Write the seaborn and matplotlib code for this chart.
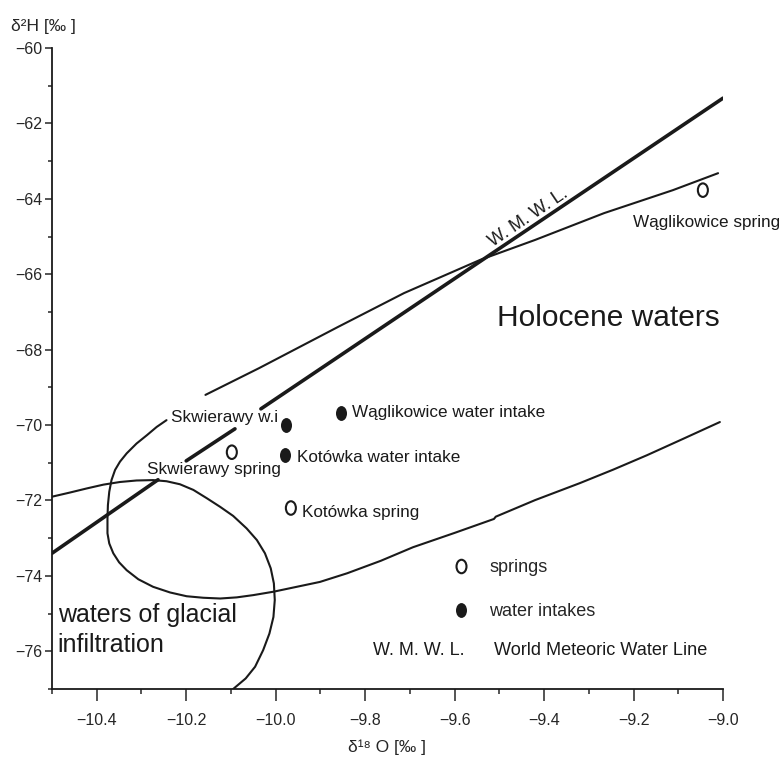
import pandas as pd
import seaborn as sns
import matplotlib.pyplot as plt
from matplotlib.path import Path
from matplotlib.transforms import Affine2D
from matplotlib.lines import Line2D

# world meteoric water line, cut where the labels sit on it
wmwl_seg = [0, 0, 1, 1, 2, 2]
wmwl_x = [-10.5, -10.263, -10.2, -10.091, -10.033, -9.0]
wmwl_y = [-73.4, -71.45, -70.95, -70.1, -69.57, -61.33]

# upper boundary of Holocene waters
upper_x = [-10.157, -10.037, -9.861, -9.713, -9.543, -9.420, -9.266, -9.112, -9.011]
upper_y = [-69.20, -68.49, -67.40, -66.50, -65.62, -65.09, -64.38, -63.77, -63.32]

# lower boundary of Holocene waters (loops round the glacial field)
lower_x = [-10.244, -10.266, -10.288, -10.311, -10.333, -10.348, -10.359, -10.367,
           -10.372, -10.375, -10.376, -10.376, -10.372, -10.363, -10.350, -10.333,
           -10.307, -10.274, -10.236, -10.199, -10.162, -10.124, -10.087, -10.050,
           -10.005, -9.953, -9.901, -9.840, -9.765, -9.693, -9.600, -9.512,
           -9.508, -9.420, -9.320, -9.245, -9.170, -9.090, -9.007]
lower_y = [-69.87, -70.05, -70.27, -70.49, -70.75, -70.97, -71.19, -71.46,
           -71.77, -72.12, -72.48, -72.87, -73.14, -73.40, -73.64, -73.85,
           -74.09, -74.29, -74.44, -74.54, -74.58, -74.60, -74.57, -74.51,
           -74.42, -74.29, -74.16, -73.93, -73.60, -73.24, -72.86, -72.49,
           -72.43, -71.99, -71.54, -71.18, -70.80, -70.37, -69.92]

# boundary of glacial infiltration waters
glacial_x = [-10.5, -10.460, -10.422, -10.385, -10.348, -10.311, -10.274, -10.244,
             -10.214, -10.184, -10.154, -10.124, -10.095, -10.065, -10.042, -10.024,
             -10.011, -10.004, -10.002, -10.005, -10.014, -10.028, -10.046, -10.067,
             -10.095]
glacial_y = [-71.90, -71.79, -71.68, -71.58, -71.51, -71.47, -71.46, -71.49,
             -71.57, -71.72, -71.94, -72.17, -72.41, -72.74, -73.05, -73.40,
             -73.80, -74.20, -74.64, -75.09, -75.53, -75.97, -76.41, -76.72,
             -77.0]

spring_names = ["Wąglikowice spring", "Skwierawy spring", "Kotówka spring"]
spring_x = [-9.045, -10.098, -9.966]
spring_y = [-63.77, -70.72, -72.2]
spring_lx = [-9.201, -10.288, -9.941]
spring_ly = [-64.62, -71.19, -72.31]

intake_names = ["Skwierawy w.i", "Kotówka water intake", "Wąglikowice water intake"]
intake_x = [-9.977, -9.98, -9.854]
intake_y = [-70.0, -70.8, -69.68]
intake_lx = [-10.234, -9.952, -9.829]
intake_ly = [-69.81, -70.85, -69.68]

x_ticks = [-10.4, -10.2, -10.0, -9.8, -9.6, -9.4, -9.2, -9.0]
y_ticks = [-60, -62, -64, -66, -68, -70, -72, -74, -76]

INK = "#1a1a1a"

sns.set_style("ticks")
plt.rcParams["font.family"] = ["Liberation Sans", "DejaVu Sans"]

fig = plt.figure(figsize=(7.79, 7.6), dpi=100)
ax = fig.add_axes([52 / 779, 71 / 760, 671 / 779, 641 / 760])

wmwl = pd.DataFrame({"x": wmwl_x, "y": wmwl_y, "seg": wmwl_seg})
sns.lineplot(data=wmwl, x="x", y="y", units="seg", estimator=None, sort=False,
             color=INK, linewidth=2.6, ax=ax)
for cx, cy in [(upper_x, upper_y), (lower_x, lower_y), (glacial_x, glacial_y)]:
    sns.lineplot(x=cx, y=cy, estimator=None, sort=False, color=INK,
                 linewidth=1.5, ax=ax)

oval = Path.unit_circle().transformed(Affine2D().scale(0.74, 1.0))
sns.scatterplot(x=spring_x, y=spring_y, marker=oval, s=95, linewidth=1.5,
                edgecolor=INK, ax=ax, zorder=3)
ax.collections[-1].set_facecolor("none")
sns.scatterplot(x=intake_x, y=intake_y, marker=oval, s=115, linewidth=0,
                color=INK, ax=ax, zorder=3)

for name, lx, ly in zip(spring_names + intake_names, spring_lx + intake_lx,
                        spring_ly + intake_ly):
    ax.text(lx, ly, name, fontsize=12.3, ha="left", va="center", color=INK)

ax.text(-9.436, -64.51, "W. M. W. L.", fontsize=13, rotation=34, ha="center",
        va="center", rotation_mode="anchor", color=INK)
ax.text(-9.505, -67.16, "Holocene waters", fontsize=21.5,
        ha="left", va="center", color=INK)
ax.text(-10.487, -75.44, "waters of glacial\ninfiltration", fontsize=18,
        ha="left", va="center", linespacing=1.3, color=INK)
ax.text(-9.782, -75.99, "W. M. W. L.", fontsize=13, ha="left", va="center",
        color=INK)
ax.text(-9.511, -75.99, "World Meteoric Water Line", fontsize=13.1, ha="left",
        va="center", color=INK)

handles = [
    Line2D([], [], linestyle="none", marker=oval, markersize=9.7,
           markerfacecolor="none", markeredgecolor=INK, markeredgewidth=1.5),
    Line2D([], [], linestyle="none", marker=oval, markersize=10.7,
           markerfacecolor=INK, markeredgewidth=0),
]
ax.legend(handles, ["springs", "water intakes"], loc="upper left",
          bbox_to_anchor=(0.586, 0.2137), borderaxespad=0, frameon=False,
          fontsize=13, handlelength=1.0, handletextpad=1.05, labelspacing=1.5)

ax.set_xlim(-10.5, -9.0)
ax.set_ylim(-77, -60)
ax.set_xticks(x_ticks)
ax.set_xticks([t - 0.1 for t in x_ticks], minor=True)
ax.set_yticks(y_ticks)
ax.set_yticks([t - 1 for t in y_ticks], minor=True)
ax.tick_params(axis="x", which="major", length=8.5, width=1.1, pad=9, labelsize=11.5)
ax.tick_params(axis="x", which="minor", length=3.5, width=1.1)
ax.tick_params(axis="y", which="major", length=5, width=1.1, pad=2, labelsize=11.5)
ax.tick_params(axis="y", which="minor", length=3, width=1.1)
sns.despine(ax=ax)
for side in ["left", "bottom"]:
    ax.spines[side].set_linewidth(1.3)
    ax.spines[side].set_color(INK)

ax.set_xlabel("δ¹⁸ O [‰ ]", fontsize=12.5, labelpad=8)
ax.set_ylabel("δ²H [‰ ]", fontsize=12.5, rotation=0, ha="left", va="center")
ax.yaxis.set_label_coords(-0.061, 1.033)

fig.savefig("out.png", dpi=100)
